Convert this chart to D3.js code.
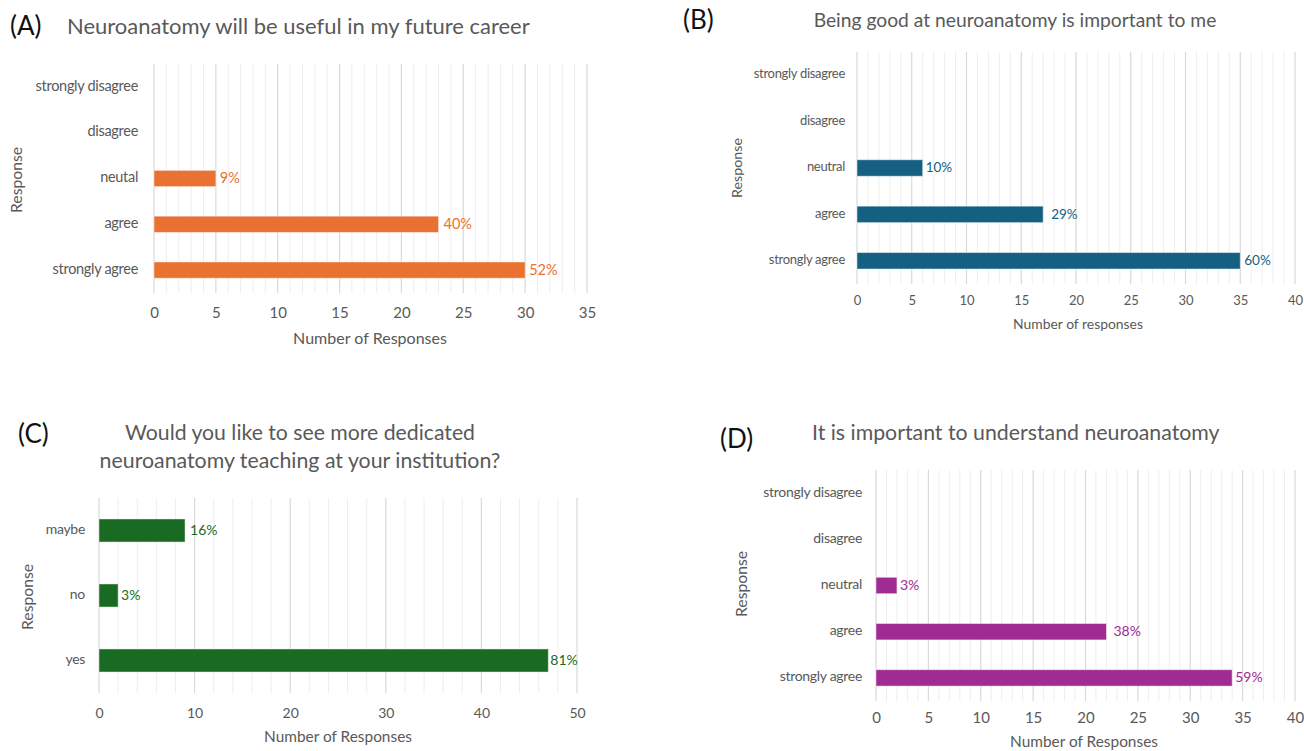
<!DOCTYPE html>
<html>
<head>
<meta charset="utf-8">
<script src="https://cdn.jsdelivr.net/npm/d3@7"></script>
<style>
  html, body { margin: 0; padding: 0; background: #fff; }
  svg { display: block; font-family: Lato, "Open Sans", sans-serif; }
</style>
</head>
<body>
<svg id="chart" width="1304" height="751"></svg>
<script>
// ---------------- DATA ----------------
const catsA = ["strongly disagree", "disagree", "neutal", "agree", "strongly agree"];
const valsA = [0, 0, 5, 23, 30];
const pctsA = ["", "", "9%", "40%", "52%"];
const ticksA = [0, 5, 10, 15, 20, 25, 30, 35];
const titleA = ["Neuroanatomy will be useful in my future career"];
const xTitleA = "Number of Responses";

const catsB = ["strongly disagree", "disagree", "neutral", "agree", "strongly agree"];
const valsB = [0, 0, 6, 17, 35];
const pctsB = ["", "", "10%", "29%", "60%"];
const ticksB = [0, 5, 10, 15, 20, 25, 30, 35, 40];
const titleB = ["Being good at neuroanatomy is important to me"];
const xTitleB = "Number of responses";

const catsC = ["maybe", "no", "yes"];
const valsC = [9, 2, 47];
const pctsC = ["16%", "3%", "81%"];
const ticksC = [0, 10, 20, 30, 40, 50];
const titleC = ["Would you like to see more dedicated", "neuroanatomy teaching at your institution?"];
const xTitleC = "Number of Responses";

const catsD = ["strongly disagree", "disagree", "neutral", "agree", "strongly agree"];
const valsD = [0, 0, 2, 22, 34];
const pctsD = ["", "", "3%", "38%", "59%"];
const ticksD = [0, 5, 10, 15, 20, 25, 30, 35, 40];
const titleD = ["It is important to understand neuroanatomy"];
const xTitleD = "Number of Responses";

const panelLetters = ["(A)", "(B)", "(C)", "(D)"];
const yTitle = "Response";

// ---------------- LAYOUT / STYLE ----------------
const TEXT = "#595959";
const panels = [
  { letter: panelLetters[0], cats: catsA, vals: valsA, pcts: pctsA, ticks: ticksA, title: titleA, xTitle: xTitleA,
    color: "#E97132", minor: 1, x0: 154, x1: 587, y0: 64, y1: 293,
    catRight: 138, catSize: 14.5, pctGap: [4, 4, 4, 5, 4],
    letterX: 10, letterY: 28, letterSize: 26,
    titleX: 67, titleAnchor: "start", titleYs: [28], titleWs: [463], titleSize: 22,
    tickY: 314, tickSize: 15, xTitleX: 370, xTitleY: 340, xTitleW: 154, xTitleSize: 15,
    yTitleX: 18, yTitleY: 180, yTitleW: 66, pctSize: 14.5 },
  { letter: panelLetters[1], cats: catsB, vals: valsB, pcts: pctsB, ticks: ticksB, title: titleB, xTitle: xTitleB,
    color: "#156082", minor: 1, x0: 857, x1: 1295, y0: 52, y1: 284,
    catRight: 845, catSize: 13, pctGap: [4, 4, 3, 8, 4],
    letterX: 683, letterY: 22, letterSize: 26,
    titleX: 1015, titleAnchor: "middle", titleYs: [22], titleWs: [403], titleSize: 20,
    tickY: 302, tickSize: 13, xTitleX: 1078, xTitleY: 325, xTitleW: 130, xTitleSize: 14,
    yTitleX: 738, yTitleY: 168, yTitleW: 60, pctSize: 13.5 },
  { letter: panelLetters[2], cats: catsC, vals: valsC, pcts: pctsC, ticks: ticksC, title: titleC, xTitle: xTitleC,
    color: "#196B24", minor: 2, x0: 99, x1: 577, y0: 498, y1: 693,
    catRight: 85, catSize: 14, pctGap: [5, 3, 2],
    letterX: 18, letterY: 436, letterSize: 26,
    titleX: 300, titleAnchor: "middle", titleYs: [435, 463], titleWs: [350, 401], titleSize: 22,
    tickY: 714, tickSize: 14, xTitleX: 338, xTitleY: 738, xTitleW: 148, xTitleSize: 15,
    yTitleX: 29, yTitleY: 597, yTitleW: 66, pctSize: 14 },
  { letter: panelLetters[3], cats: catsD, vals: valsD, pcts: pctsD, ticks: ticksD, title: titleD, xTitle: xTitleD,
    color: "#A02B93", minor: 1, x0: 876, x1: 1295, y0: 470, y1: 701,
    catRight: 862, catSize: 14, pctGap: [4, 4, 3, 7, 3],
    letterX: 720, letterY: 441, letterSize: 26,
    titleX: 812, titleAnchor: "start", titleYs: [435], titleWs: [408], titleSize: 22,
    tickY: 719, tickSize: 15, xTitleX: 1084, xTitleY: 743, xTitleW: 148, xTitleSize: 15,
    yTitleX: 743, yTitleY: 584, yTitleW: 66, pctSize: 14 }
];

const svg = d3.select("#chart");

function fitWidth(sel, target, size) {
  sel.attr("font-size", size);
  const w = sel.node().getComputedTextLength();
  if (w > 0) sel.attr("font-size", size * target / w);
}

panels.forEach(p => {
  const g = svg.append("g");
  const xMax = p.ticks[p.ticks.length - 1];
  const x = d3.scaleLinear().domain([0, xMax]).range([p.x0, p.x1]);
  const y = d3.scaleBand().domain(p.cats).range([p.y0, p.y1]).padding(0);
  const barH = y.bandwidth() * 0.355;

  // minor gridlines
  const minorVals = d3.range(0, xMax + 0.001, p.minor).filter(v => !p.ticks.includes(v));
  g.append("g").selectAll("line").data(minorVals).join("line")
    .attr("x1", d => x(d)).attr("x2", d => x(d))
    .attr("y1", p.y0).attr("y2", p.y1)
    .attr("stroke", "#eeeeee").attr("stroke-width", 1);

  // major gridlines
  g.append("g").selectAll("line").data(p.ticks).join("line")
    .attr("x1", d => x(d)).attr("x2", d => x(d))
    .attr("y1", p.y0).attr("y2", p.y1)
    .attr("stroke", "#d9d9d9").attr("stroke-width", 1.2);

  // x axis tick labels via d3 axis
  const ax = g.append("g")
    .attr("transform", `translate(0,${p.tickY - 8})`)
    .call(d3.axisBottom(x).tickValues(p.ticks).tickSize(0).tickPadding(0).tickFormat(d3.format("d")));
  ax.select(".domain").remove();
  ax.selectAll("text")
    .attr("fill", TEXT).attr("font-size", p.tickSize)
    .attr("font-family", "Lato, sans-serif")
    .attr("dy", null).attr("y", 8).attr("dominant-baseline", "middle");

  // bars
  const rows = p.cats.map((c, i) => ({ c, v: p.vals[i], pct: p.pcts[i], gap: p.pctGap[i] }));
  g.append("g").selectAll("rect").data(rows.filter(r => r.v > 0)).join("rect")
    .attr("x", x(0)).attr("width", d => x(d.v) - x(0))
    .attr("y", d => y(d.c) + (y.bandwidth() - barH) / 2)
    .attr("height", barH)
    .attr("fill", p.color)
    .attr("stroke", "#ffffff").attr("stroke-opacity", 0.45).attr("stroke-width", 1);

  // value labels
  g.append("g").selectAll("text").data(rows.filter(r => r.pct)).join("text")
    .attr("x", d => x(d.v) + d.gap)
    .attr("y", d => y(d.c) + y.bandwidth() / 2 + 1)
    .attr("dominant-baseline", "middle")
    .attr("fill", p.color).attr("font-size", p.pctSize)
    .text(d => d.pct);

  // category labels
  g.append("g").selectAll("text").data(p.cats).join("text")
    .attr("x", p.catRight)
    .attr("y", d => y(d) + y.bandwidth() / 2)
    .attr("text-anchor", "end").attr("dominant-baseline", "middle")
    .attr("fill", TEXT).attr("font-size", p.catSize)
    .attr("letter-spacing", -0.3)
    .text(d => d);

  // panel letter
  g.append("text").attr("x", p.letterX).attr("y", p.letterY)
    .attr("dominant-baseline", "middle").attr("fill", "#111")
    .attr("font-size", p.letterSize).text(p.letter);

  // title
  p.title.forEach((t, i) => {
    const tt = g.append("text").attr("x", p.titleX).attr("y", p.titleYs[i])
      .attr("dominant-baseline", "middle").attr("text-anchor", p.titleAnchor)
      .attr("fill", TEXT).text(t);
    fitWidth(tt, p.titleWs[i], p.titleSize);
  });

  // x axis title
  const xt = g.append("text").attr("x", p.xTitleX).attr("y", p.xTitleY)
    .attr("dominant-baseline", "middle").attr("text-anchor", "middle")
    .attr("fill", TEXT).text(p.xTitle);
  fitWidth(xt, p.xTitleW, p.xTitleSize);

  // y axis title
  const yt = g.append("text")
    .attr("transform", `translate(${p.yTitleX},${p.yTitleY}) rotate(-90)`)
    .attr("dominant-baseline", "middle").attr("text-anchor", "middle")
    .attr("fill", TEXT).text(yTitle);
  fitWidth(yt, p.yTitleW, 15);
});
</script>
</body>
</html>
